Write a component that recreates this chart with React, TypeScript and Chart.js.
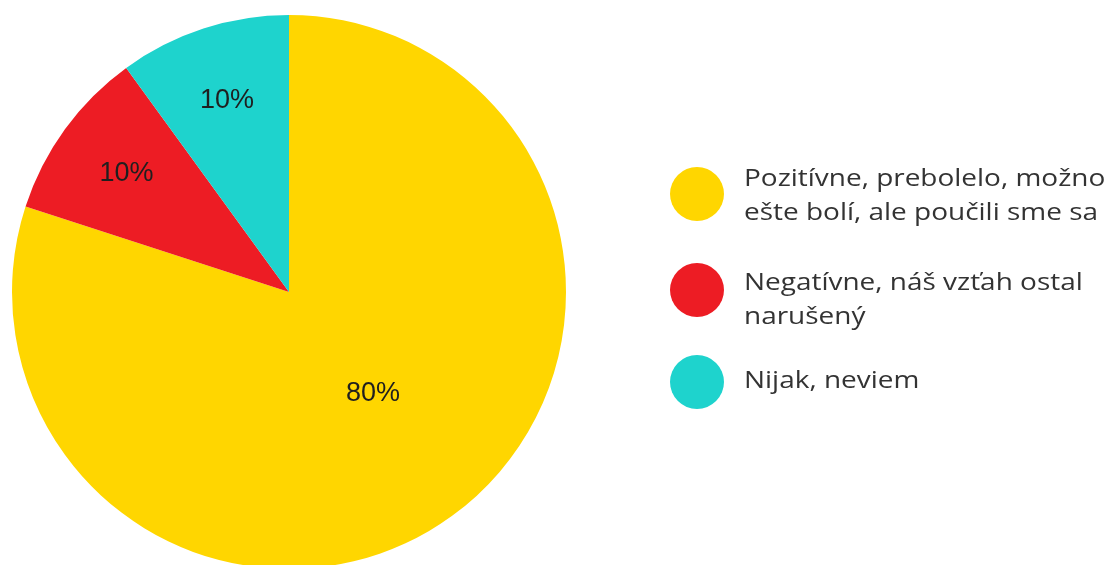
import React, { useEffect, useRef } from "react";
import { Chart, registerables } from "chart.js";

Chart.register(...registerables);

const labels = [
  "Pozitívne, prebolelo, možno ešte bolí, ale poučili sme sa",
  "Negatívne, náš vzťah ostal narušený",
  "Nijak, neviem",
];
const legendLines = [
  ["Pozitívne, prebolelo, možno", "ešte bolí, ale poučili sme sa"],
  ["Negatívne, náš vzťah ostal", "narušený"],
  ["Nijak, neviem"],
];
const values = [80, 10, 10];
const colors = ["#FFD600", "#ED1C24", "#1ED3CD"];

const sliceLabelPlugin = {
  id: "sliceLabels",
  afterDatasetsDraw(chart: any) {
    const ctx = chart.ctx;
    const meta = chart.getDatasetMeta(0);
    const total = values.reduce((a, b) => a + b, 0);
    ctx.save();
    ctx.font = "27px 'Liberation Sans', Arial, sans-serif";
    ctx.fillStyle = "#1f1f1f";
    ctx.textAlign = "center";
    ctx.textBaseline = "middle";
    meta.data.forEach((arc: any, i: number) => {
      const p = arc.getProps(["x", "y", "startAngle", "endAngle", "outerRadius"], true);
      const frac = values[i] / total;
      const mid = (p.startAngle + p.endAngle) / 2 - (frac > 0.5 ? 0.065 : 0);
      const rf = frac > 0.5 ? 0.475 : 0.725;
      const x = p.x + Math.cos(mid) * p.outerRadius * rf;
      const y = p.y + Math.sin(mid) * p.outerRadius * rf;
      ctx.fillText(Math.round(frac * 100) + "%", x, y);
    });
    ctx.restore();
  },
};

export default function App() {
  const ref = useRef<HTMLCanvasElement | null>(null);
  useEffect(() => {
    document.body.style.margin = "0";
    const chart = new Chart(ref.current!, {
      type: "pie",
      data: {
        labels,
        datasets: [
          {
            data: values,
            backgroundColor: colors,
            borderWidth: 0,
          },
        ],
      },
      options: {
        animation: false,
        responsive: false,
        layout: { padding: { left: 12, right: 543, top: 15, bottom: 11 } },
        plugins: { legend: { display: false }, tooltip: { enabled: false } },
      },
      plugins: [sliceLabelPlugin],
    });
    return () => chart.destroy();
  }, []);

  const circleTops = [167, 263, 355];
  const textTops = [160, 264, 362];
  return (
    <div style={{ position: "relative", width: 1109, height: 565, overflow: "hidden", background: "#fff" }}>
      <canvas ref={ref} width={1109} height={580} style={{ position: "absolute", left: 0, top: 0 }} />
      {legendLines.map((lines, i) => (
        <React.Fragment key={i}>
          <div
            style={{
              position: "absolute",
              left: 670,
              top: circleTops[i],
              width: 54,
              height: 54,
              borderRadius: "50%",
              background: colors[i],
            }}
          />
          <div
            style={{
              position: "absolute",
              left: 744,
              top: textTops[i],
              fontFamily: "'Open Sans', sans-serif",
              fontSize: 24,
              lineHeight: "34px",
              color: "#333",
              whiteSpace: "nowrap",
              transform: "scaleX(1.165)",
              transformOrigin: "left top",
            }}
          >
            {lines.map((l, j) => (
              <div key={j}>{l}</div>
            ))}
          </div>
        </React.Fragment>
      ))}
    </div>
  );
}
